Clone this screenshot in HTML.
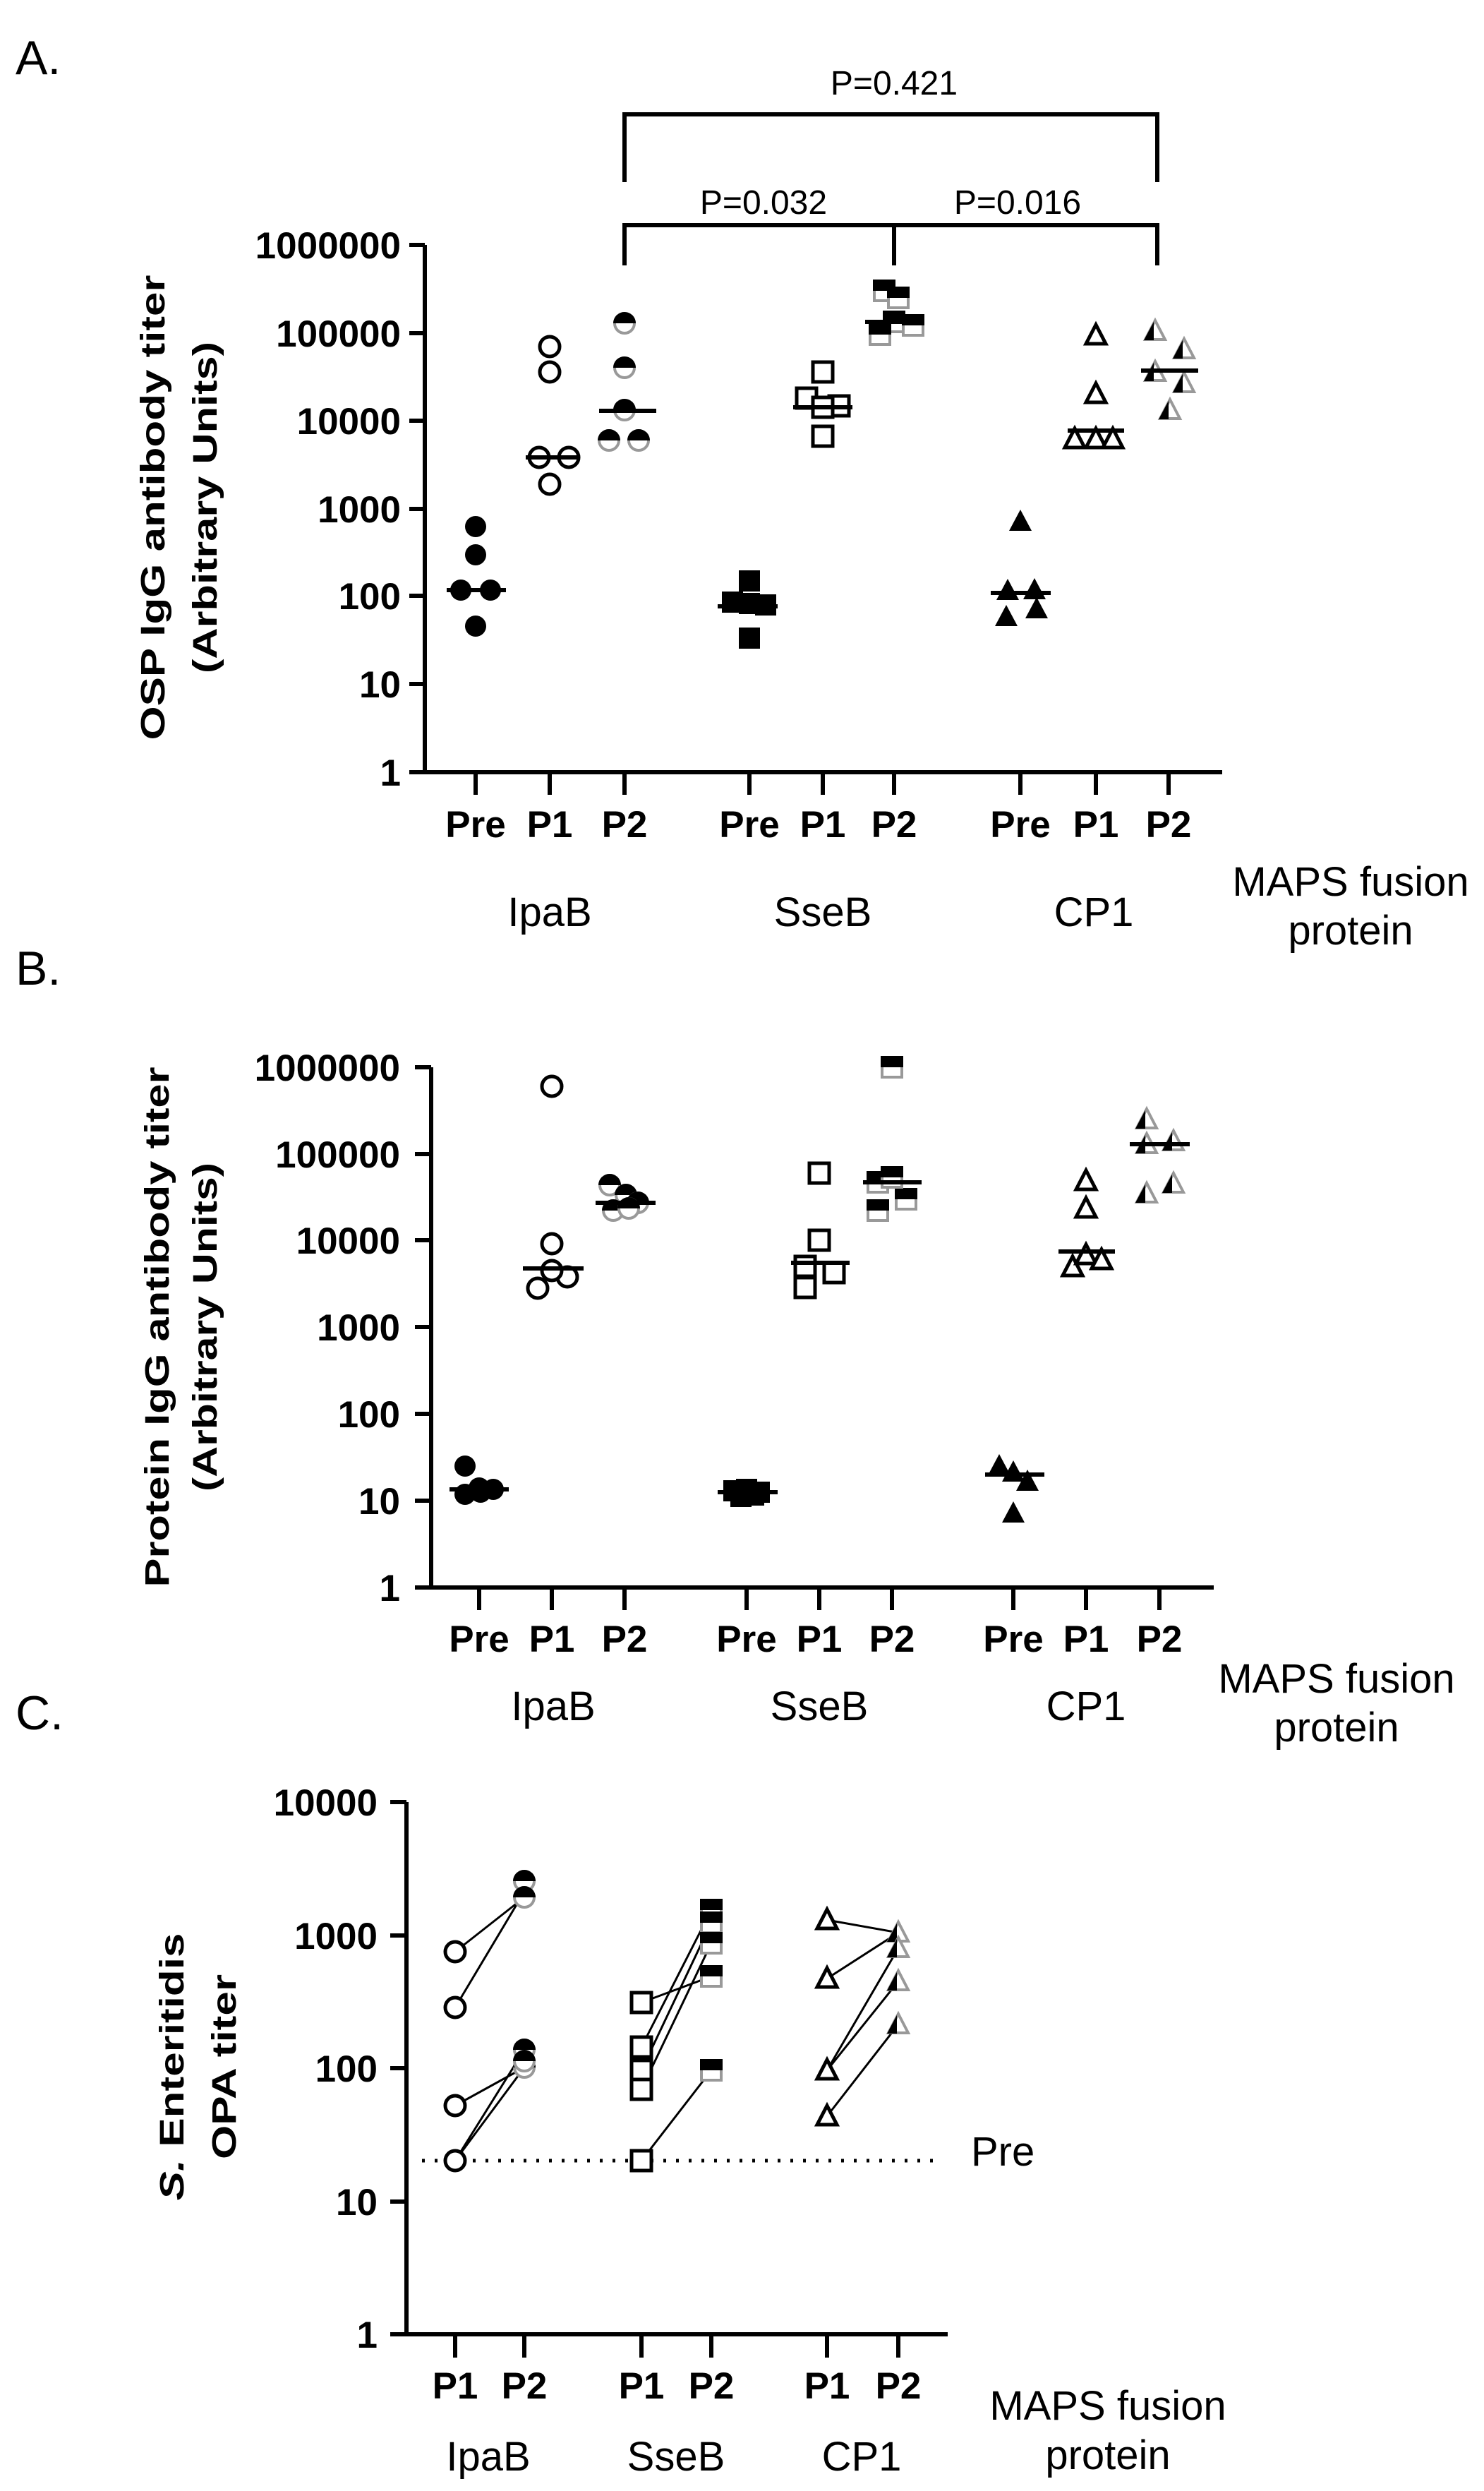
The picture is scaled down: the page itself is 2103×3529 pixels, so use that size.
<!DOCTYPE html>
<html><head><meta charset="utf-8"><style>
html,body{margin:0;padding:0;background:#fff;}
svg{display:block;}
text{font-family:"Liberation Sans",Arial,sans-serif;fill:#000;}
.tk{font-size:53px;font-weight:bold;}
.gl{font-size:58px;}
.pl{font-size:68px;}
.pv{font-size:48px;}
.yl{font-size:48px;font-weight:bold;}
</style></head><body>
<svg width="2103" height="3529" viewBox="0 0 2103 3529" xmlns="http://www.w3.org/2000/svg">
<defs>
<g id="fc"><circle r="15" fill="#000"/></g>
<g id="oc"><circle r="14" fill="#fff" stroke="#000" stroke-width="5"/></g>
<g id="hc"><circle r="14" fill="#fff" stroke="#999" stroke-width="4"/><path d="M-16,0 A16,16 0 0 1 16,0 Z" fill="#000"/></g>
<g id="fs"><rect x="-15" y="-15" width="30" height="30" fill="#000"/></g>
<g id="os"><rect x="-14" y="-14" width="28" height="28" fill="#fff" stroke="#000" stroke-width="5"/></g>
<g id="hs"><rect x="-14" y="-14" width="28" height="28" fill="#fff" stroke="#999" stroke-width="4"/><rect x="-16" y="-16" width="32" height="16" fill="#000"/></g>
<g id="ft"><path d="M0,-17 L16,13 L-16,13 Z" fill="#000"/></g>
<g id="ot"><path d="M0,-15 L14,12 L-14,12 Z" fill="#fff" stroke="#000" stroke-width="5" stroke-linejoin="miter"/></g>
<g id="ht"><path d="M0,-15 L14,12 L-14,12 Z" fill="#fff" stroke="#999" stroke-width="4"/><path d="M0,-17 L-16,13 L-2,13 L-2,-13 Z" fill="#000"/></g>
</defs>

<!-- ============ PANEL A ============ -->
<text class="pl" x="22" y="105">A.</text>
<g stroke="#000" stroke-width="6" fill="none">
<path d="M885,258 V162 H1640 V258"/>
<path d="M885,376 V319 H1640 V376 M1267,319 V376"/>
<path d="M602,347 V1094 H1732"/>
<path d="M580,347 H602 M580,472 H602 M580,596 H602 M580,721 H602 M580,844 H602 M580,969 H602 M580,1094 H602"/>
<path d="M674,1094 V1126 M779,1094 V1126 M885,1094 V1126 M1062,1094 V1126 M1166,1094 V1126 M1267,1094 V1126 M1446,1094 V1126 M1553,1094 V1126 M1656,1094 V1126"/>
</g>
<text class="pv" x="1267" y="134" text-anchor="middle">P=0.421</text>
<text class="pv" x="1082" y="303" text-anchor="middle">P=0.032</text>
<text class="pv" x="1442" y="303" text-anchor="middle">P=0.016</text>
<g class="tk" text-anchor="end">
<text x="568" y="366">1000000</text><text x="568" y="491">100000</text><text x="568" y="615">10000</text>
<text x="568" y="740">1000</text><text x="568" y="863">100</text><text x="568" y="988">10</text><text x="568" y="1113">1</text>
</g>
<g class="tk" text-anchor="middle">
<text x="674" y="1186">Pre</text><text x="779" y="1186">P1</text><text x="885" y="1186">P2</text>
<text x="1062" y="1186">Pre</text><text x="1166" y="1186">P1</text><text x="1267" y="1186">P2</text>
<text x="1446" y="1186">Pre</text><text x="1553" y="1186">P1</text><text x="1656" y="1186">P2</text>
</g>
<g class="gl" text-anchor="middle">
<text x="779" y="1312">IpaB</text><text x="1166" y="1312">SseB</text><text x="1550" y="1312">CP1</text>
<text x="1914" y="1269">MAPS fusion</text><text x="1914" y="1338">protein</text>
</g>
<text class="yl" transform="translate(233,719) rotate(-90)" text-anchor="middle" textLength="659" lengthAdjust="spacingAndGlyphs">OSP IgG antibody titer</text>
<text class="yl" transform="translate(307,719) rotate(-90)" text-anchor="middle" textLength="470" lengthAdjust="spacingAndGlyphs">(Arbitrary Units)</text>
<g>
<use href="#fc" x="674" y="746"/><use href="#fc" x="674" y="786"/><use href="#fc" x="653" y="836"/><use href="#fc" x="695" y="836"/><use href="#fc" x="674" y="887"/>
<use href="#oc" x="779" y="491"/><use href="#oc" x="779" y="527"/><use href="#oc" x="764" y="648"/><use href="#oc" x="806" y="648"/><use href="#oc" x="779" y="686"/>
<use href="#hc" x="885" y="458"/><use href="#hc" x="885" y="521"/><use href="#hc" x="885" y="581"/><use href="#hc" x="863" y="624"/><use href="#hc" x="905" y="624"/>
<use href="#fs" x="1062" y="823"/><use href="#fs" x="1038" y="853"/><use href="#fs" x="1085" y="857"/><use href="#fs" x="1062" y="904"/><use href="#fs" x="1062" y="855"/>
<use href="#os" x="1166" y="527"/><use href="#os" x="1143" y="564"/><use href="#os" x="1189" y="575"/><use href="#os" x="1166" y="618"/><use href="#os" x="1166" y="577"/>
<use href="#hs" x="1253" y="412"/><use href="#hs" x="1273" y="422"/><use href="#hs" x="1267" y="456"/><use href="#hs" x="1247" y="474"/><use href="#hs" x="1294" y="461"/>
<use href="#ft" x="1446" y="739"/><use href="#ft" x="1426" y="874"/><use href="#ft" x="1469" y="863"/><use href="#ft" x="1428" y="837"/><use href="#ft" x="1466" y="836"/>
<use href="#ot" x="1553" y="475"/><use href="#ot" x="1553" y="558"/><use href="#ot" x="1523" y="622"/><use href="#ot" x="1553" y="622"/><use href="#ot" x="1577" y="622"/>
<use href="#ht" x="1637" y="469"/><use href="#ht" x="1678" y="495"/><use href="#ht" x="1637" y="527"/><use href="#ht" x="1678" y="543"/><use href="#ht" x="1658" y="581"/>
</g>
<g stroke="#000" stroke-width="6">
<path d="M633,836 H717 M745,648 H822 M849,582 H930 M1017,859 H1102 M1124,577 H1208 M1226,456 H1310 M1404,840 H1489 M1513,610 H1593 M1617,525 H1698"/>
</g>

<!-- ============ PANEL B ============ -->
<text class="pl" x="22" y="1395">B.</text>
<g stroke="#000" stroke-width="6" fill="none">
<path d="M611,1512 V2249 H1720"/>
<path d="M588,1512 H611 M588,1635 H611 M588,1757 H611 M588,1880 H611 M588,2003 H611 M588,2126 H611 M588,2249 H611"/>
<path d="M679,2249 V2281 M782,2249 V2281 M885,2249 V2281 M1058,2249 V2281 M1161,2249 V2281 M1264,2249 V2281 M1436,2249 V2281 M1539,2249 V2281 M1643,2249 V2281"/>
</g>
<g class="tk" text-anchor="end">
<text x="567" y="1531">1000000</text><text x="567" y="1654">100000</text><text x="567" y="1776">10000</text>
<text x="567" y="1899">1000</text><text x="567" y="2022">100</text><text x="567" y="2145">10</text><text x="567" y="2268">1</text>
</g>
<g class="tk" text-anchor="middle">
<text x="679" y="2340">Pre</text><text x="782" y="2340">P1</text><text x="885" y="2340">P2</text>
<text x="1058" y="2340">Pre</text><text x="1161" y="2340">P1</text><text x="1264" y="2340">P2</text>
<text x="1436" y="2340">Pre</text><text x="1539" y="2340">P1</text><text x="1643" y="2340">P2</text>
</g>
<g class="gl" text-anchor="middle">
<text x="784" y="2437">IpaB</text><text x="1161" y="2437">SseB</text><text x="1539" y="2437">CP1</text>
<text x="1894" y="2398">MAPS fusion</text><text x="1894" y="2467">protein</text>
</g>
<text class="yl" transform="translate(239,1880) rotate(-90)" text-anchor="middle" textLength="737" lengthAdjust="spacingAndGlyphs">Protein IgG antibody titer</text>
<text class="yl" transform="translate(307,1880) rotate(-90)" text-anchor="middle" textLength="466" lengthAdjust="spacingAndGlyphs">(Arbitrary Units)</text>
<g>
<use href="#fc" x="659" y="2077"/><use href="#fc" x="659" y="2117"/><use href="#fc" x="679" y="2108"/><use href="#fc" x="699" y="2110"/><use href="#fc" x="681" y="2114"/>
<use href="#oc" x="782" y="1539"/><use href="#oc" x="782" y="1762"/><use href="#oc" x="762" y="1825"/><use href="#oc" x="804" y="1809"/><use href="#oc" x="782" y="1800"/>
<use href="#hc" x="864" y="1679"/><use href="#hc" x="887" y="1693"/><use href="#hc" x="904" y="1704"/><use href="#hc" x="869" y="1715"/><use href="#hc" x="891" y="1712"/>
<use href="#fs" x="1040" y="2112"/><use href="#fs" x="1058" y="2110"/><use href="#fs" x="1076" y="2114"/><use href="#fs" x="1050" y="2120"/><use href="#fs" x="1068" y="2118"/>
<use href="#os" x="1161" y="1662"/><use href="#os" x="1161" y="1757"/><use href="#os" x="1141" y="1824"/><use href="#os" x="1182" y="1803"/><use href="#os" x="1141" y="1794"/>
<use href="#hs" x="1264" y="1512"/><use href="#hs" x="1244" y="1675"/><use href="#hs" x="1284" y="1699"/><use href="#hs" x="1244" y="1715"/><use href="#hs" x="1264" y="1668"/>
<use href="#ft" x="1416" y="2077"/><use href="#ft" x="1436" y="2086"/><use href="#ft" x="1456" y="2099"/><use href="#ft" x="1436" y="2144"/>
<use href="#ot" x="1539" y="1673"/><use href="#ot" x="1539" y="1712"/><use href="#ot" x="1520" y="1795"/><use href="#ot" x="1539" y="1778"/><use href="#ot" x="1561" y="1785"/>
<use href="#ht" x="1625" y="1586"/><use href="#ht" x="1625" y="1621"/><use href="#ht" x="1663" y="1617"/><use href="#ht" x="1625" y="1691"/><use href="#ht" x="1663" y="1677"/>
</g>
<g stroke="#000" stroke-width="6">
<path d="M637,2110 H721 M741,1797 H827 M844,1704 H929 M1017,2114 H1102 M1121,1789 H1204 M1223,1675 H1306 M1396,2089 H1480 M1500,1773 H1580 M1601,1621 H1686"/>
</g>

<!-- ============ PANEL C ============ -->
<text class="pl" x="22" y="2450">C.</text>
<g stroke="#000" stroke-width="6" fill="none">
<path d="M576,2553 V3307 H1343"/>
<path d="M553,2553 H576 M553,2742 H576 M553,2930 H576 M553,3119 H576 M553,3307 H576"/>
<path d="M645,3307 V3340 M743,3307 V3340 M909,3307 V3340 M1008,3307 V3340 M1172,3307 V3340 M1273,3307 V3340"/>
</g>
<path d="M598,3061 H1336" stroke="#000" stroke-width="5" stroke-dasharray="4,14" fill="none"/>
<g class="tk" text-anchor="end">
<text x="535" y="2572">10000</text><text x="535" y="2761">1000</text><text x="535" y="2949">100</text><text x="535" y="3138">10</text><text x="535" y="3326">1</text>
</g>
<g class="tk" text-anchor="middle">
<text x="645" y="3398">P1</text><text x="743" y="3398">P2</text>
<text x="909" y="3398">P1</text><text x="1008" y="3398">P2</text>
<text x="1172" y="3398">P1</text><text x="1273" y="3398">P2</text>
</g>
<g class="gl">
<text x="1376" y="3068">Pre</text>
<text x="692" y="3500" text-anchor="middle">IpaB</text><text x="958" y="3500" text-anchor="middle">SseB</text><text x="1221" y="3500" text-anchor="middle">CP1</text>
<text x="1570" y="3428" text-anchor="middle">MAPS fusion</text><text x="1570" y="3498" text-anchor="middle">protein</text>
</g>
<text class="yl" transform="translate(260,2928) rotate(-90)" text-anchor="middle" textLength="379" lengthAdjust="spacingAndGlyphs"><tspan font-style="italic">S.</tspan> Enteritidis</text>
<text class="yl" transform="translate(334,2928) rotate(-90)" text-anchor="middle" textLength="262" lengthAdjust="spacingAndGlyphs">OPA titer</text>
<g stroke="#000" stroke-width="3" fill="none">
<path d="M645,2765 L743,2688 M645,2844 L743,2680 M645,2983 L743,2929 M645,3061 L743,2929 M645,3061 L743,2904"/>
<path d="M909,2837 L1008,2800 M909,2900 L1008,2706 M909,2933 L1008,2724 M909,2960 L1008,2753 M909,3061 L1008,2933"/>
<path d="M1172,2720 L1273,2738 M1172,2803 L1273,2738 M1172,2933 L1273,2760 M1172,2933 L1273,2807 M1172,2998 L1273,2868"/>
</g>
<g>
<use href="#oc" x="645" y="2765"/><use href="#oc" x="645" y="2844"/><use href="#oc" x="645" y="2983"/><use href="#oc" x="645" y="3061"/>
<use href="#hc" x="743" y="2665"/><use href="#hc" x="743" y="2688"/><use href="#hc" x="743" y="2904"/><use href="#hc" x="743" y="2929"/><use href="#hc" x="743" y="2920"/>
<use href="#os" x="909" y="2837"/><use href="#os" x="909" y="2900"/><use href="#os" x="909" y="2933"/><use href="#os" x="909" y="2960"/><use href="#os" x="909" y="3061"/>
<use href="#hs" x="1008" y="2706"/><use href="#hs" x="1008" y="2724"/><use href="#hs" x="1008" y="2753"/><use href="#hs" x="1008" y="2800"/><use href="#hs" x="1008" y="2933"/>
<use href="#ot" x="1172" y="2720"/><use href="#ot" x="1172" y="2803"/><use href="#ot" x="1172" y="2933"/><use href="#ot" x="1172" y="2998"/>
<use href="#ht" x="1273" y="2738"/><use href="#ht" x="1273" y="2760"/><use href="#ht" x="1273" y="2807"/><use href="#ht" x="1273" y="2868"/>
</g>
</svg>
</body></html>
